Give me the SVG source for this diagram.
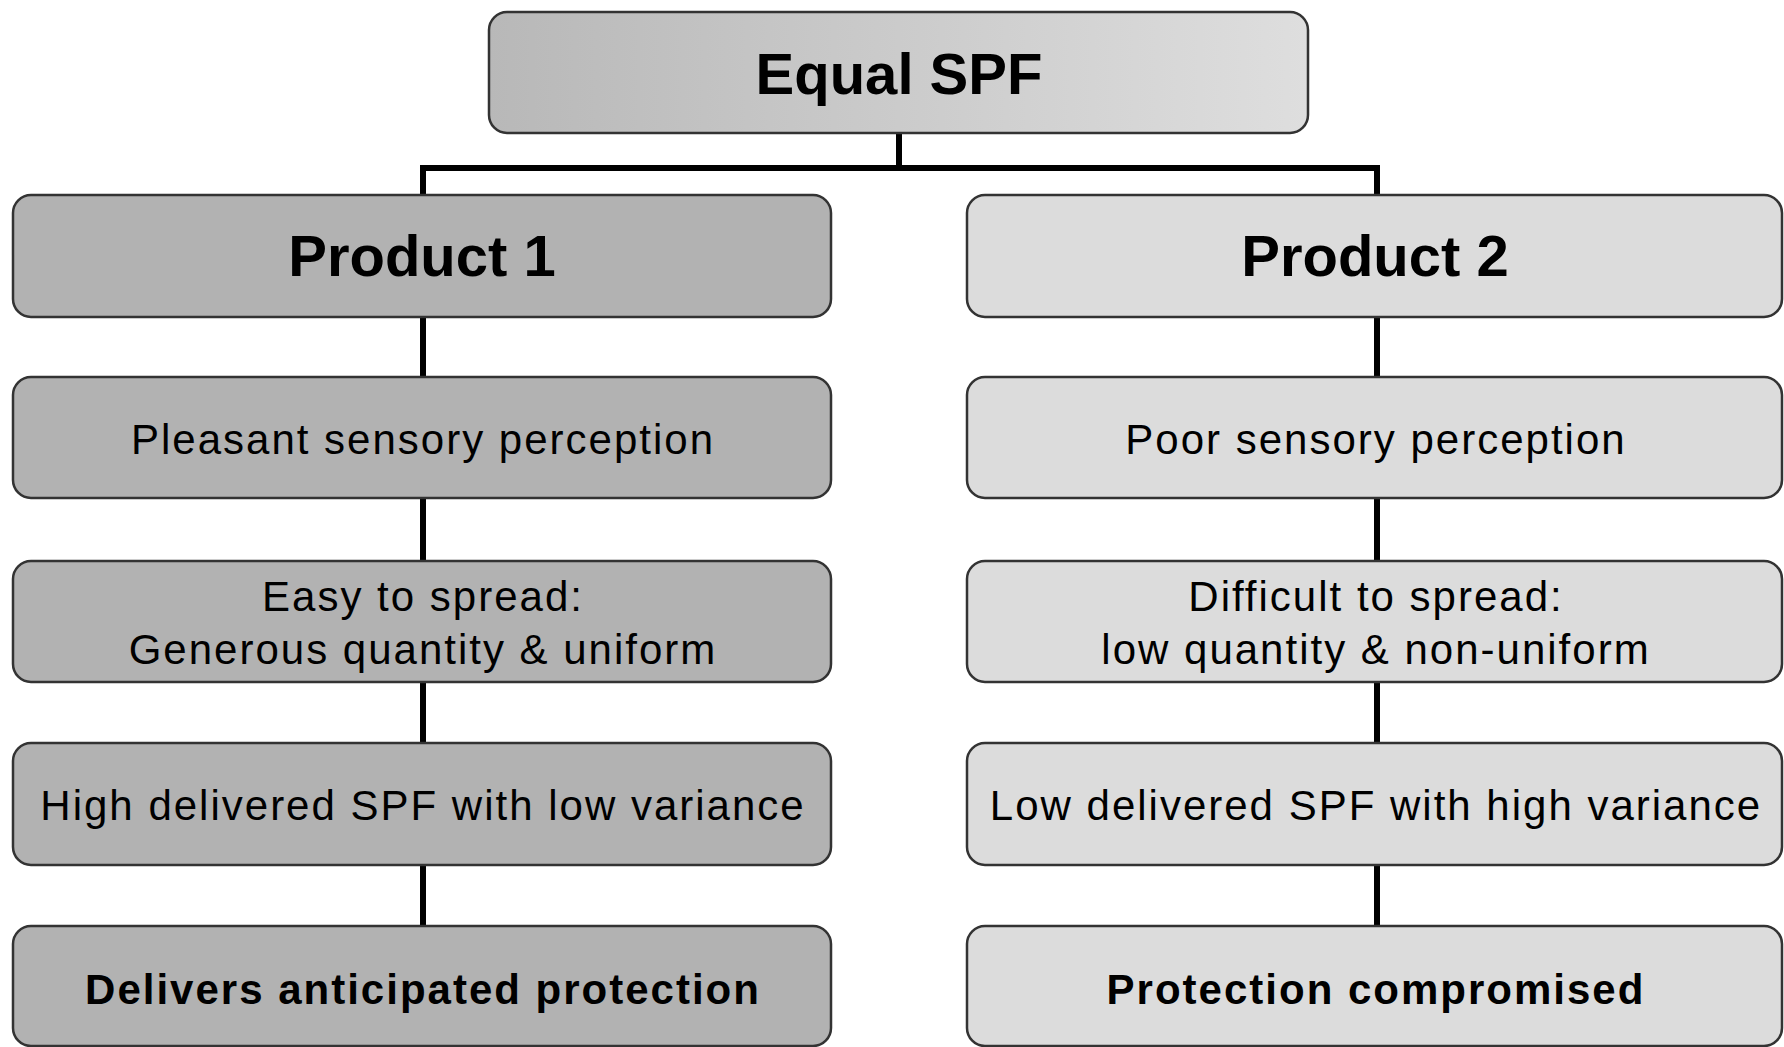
<svg xmlns="http://www.w3.org/2000/svg" width="1784" height="1047" viewBox="0 0 1784 1047">
<defs>
<linearGradient id="topGrad" x1="0" y1="0" x2="1" y2="0">
<stop offset="0" stop-color="#b8b8b8"/>
<stop offset="1" stop-color="#dedede"/>
</linearGradient>
<style>
.box { stroke: #333333; stroke-width: 2.5; }
.dark { fill: #b2b2b2; }
.light { fill: #dcdcdc; }
.top { fill: url(#topGrad); }
.t { font-family: "Liberation Sans", Arial, sans-serif; fill: #000000; text-anchor: middle; font-size: 42px; letter-spacing: 2px; }
.b { font-weight: bold; }
.big { font-family: "Liberation Sans", Arial, sans-serif; fill: #000000; text-anchor: middle; font-size: 58px; font-weight: bold; }
.conn { stroke: #000000; stroke-width: 6; fill: none; }
</style>
</defs>
<rect width="1784" height="1047" fill="#ffffff"/>
<g id="connectors">
<path class="conn" d="M899 133 V168 M423 168 H1377 M423 165 V195 M1377 165 V195"/>
<path class="conn" d="M423 317 V377 M423 498 V561 M423 682 V743 M423 865 V926"/>
<path class="conn" d="M1377 317 V377 M1377 498 V561 M1377 682 V743 M1377 865 V926"/>
</g>
<g id="equal-spf">
<rect class="box top" x="489" y="12" width="819" height="121" rx="18"/>
<text class="big" x="899" y="94">Equal SPF</text>
</g>
<g id="product1">
<rect class="box dark" x="13" y="195" width="818" height="122" rx="18"/>
<text class="big" x="422" y="276">Product 1</text>
</g>
<g id="product2">
<rect class="box light" x="967" y="195" width="815" height="122" rx="18"/>
<text class="big" x="1375" y="276">Product 2</text>
</g>
<g id="p1-sensory">
<rect class="box dark" x="13" y="377" width="818" height="121" rx="18"/>
<text class="t" x="423" y="454">Pleasant sensory perception</text>
</g>
<g id="p2-sensory">
<rect class="box light" x="967" y="377" width="815" height="121" rx="18"/>
<text class="t" x="1376" y="454">Poor sensory perception</text>
</g>
<g id="p1-spread">
<rect class="box dark" x="13" y="561" width="818" height="121" rx="18"/>
<text class="t" x="423" y="611">Easy to spread:</text>
<text class="t" x="423" y="664">Generous quantity &amp; uniform</text>
</g>
<g id="p2-spread">
<rect class="box light" x="967" y="561" width="815" height="121" rx="18"/>
<text class="t" x="1376" y="611">Difficult to spread:</text>
<text class="t" x="1376" y="664">low quantity &amp; non-uniform</text>
</g>
<g id="p1-spf">
<rect class="box dark" x="13" y="743" width="818" height="122" rx="18"/>
<text class="t" x="423" y="820">High delivered SPF with low variance</text>
</g>
<g id="p2-spf">
<rect class="box light" x="967" y="743" width="815" height="122" rx="18"/>
<text class="t" x="1376" y="820">Low delivered SPF with high variance</text>
</g>
<g id="p1-protection">
<rect class="box dark" x="13" y="926" width="818" height="120" rx="18"/>
<text class="t b" x="423" y="1004">Delivers anticipated protection</text>
</g>
<g id="p2-protection">
<rect class="box light" x="967" y="926" width="815" height="120" rx="18"/>
<text class="t b" x="1376" y="1004">Protection compromised</text>
</g>
</svg>
